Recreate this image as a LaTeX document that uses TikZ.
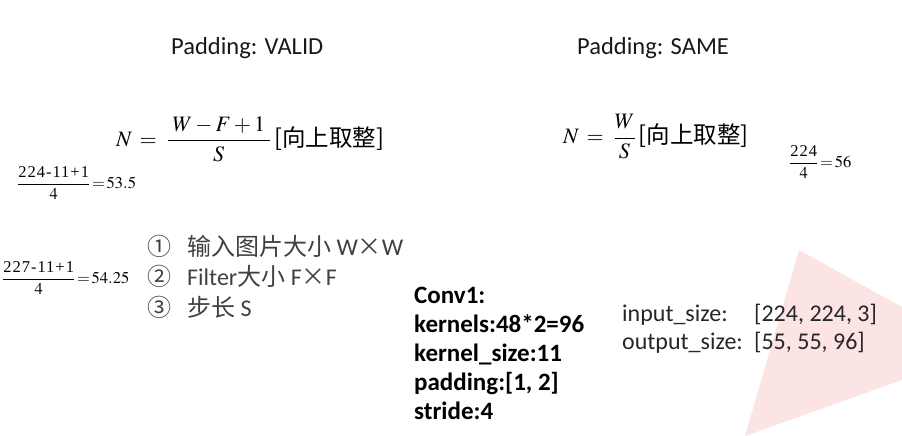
\documentclass[tikz,border=0pt]{standalone}
\usepackage{amsmath}
\usepackage{mathptmx}
\usepackage[no-math]{fontspec}
\setmainfont{Carlito}
\newfontfamily\cjk{Noto Sans CJK SC}
\newfontfamily\tnr{Liberation Serif}
\newfontfamily\tnrwide[LetterSpace=6]{Liberation Serif}
\usepackage{tikz}
\definecolor{pinkbg}{RGB}{252,228,228}
\definecolor{listgray}{RGB}{64,64,64}
\newcommand{\roundup}{\hspace{3pt}{\fontsize{23.5}{27}\selectfont\cjk[向上取整]}}

\begin{document}
\begin{tikzpicture}
  [x=1pt,y=-1pt,
    every node/.style={inner sep=0pt,anchor=base west},
    title/.style={font=\fontsize{24.5}{28}\selectfont,text=black!90},
    formula/.style={font=\fontsize{22}{26}\selectfont,anchor=west},
    calc/.style={font=\fontsize{16.5}{19}\selectfont\tnr,anchor=west},
    item/.style={font=\fontsize{24}{28}\selectfont,text=listgray},
    conv/.style={font=\fontsize{25}{29}\selectfont\bfseries},
    size/.style={font=\fontsize{24}{28}\selectfont,text=black!85},
  ]
  \useasboundingbox (0,0) rectangle (902,436);
  \fill[pinkbg] (799,250) -- (902,307) -- (902,380) -- (745,436) -- cycle;

  \node[title] (pvalid) at (171,55) {Padding: VALID};
  \node[title] (psame) at (577,55) {Padding: SAME};

  \node[formula] (fvalid) at (116,139) {$N\,=\;\dfrac{\;W-F+1\;}{S}$\roundup};
  \node[formula] (fsame) at (563,137) {$N\,=\;\dfrac{W}{S}$\roundup};

  \node[calc] (ex1) at (17,183) {$\dfrac{\mbox{\tnrwide 224-11+1}}{4}\mkern2mu{=}\mkern2mu53.5$};
  \node[calc] (ex2) at (789,162) {$\dfrac{\mbox{\tnrwide 224}}{4}\mkern2mu{=}\mkern2mu56$};
  \node[calc] (ex3) at (2,278) {$\dfrac{\mbox{\tnrwide 227-11+1}}{4}\mkern2mu{=}\mkern2mu54.25$};

  \node[item] (num1) at (147,255) {\cjk ①};
  \node[item] (num2) at (147,285) {\cjk ②};
  \node[item] (num3) at (147,316) {\cjk ③};
  \node[item] (item1) at (187,255) {{\cjk 输入图片大小} W{\cjk ×}W};
  \node[item] (item2) at (187,285) {Filter{\cjk 大小} F{\cjk ×}F};
  \node[item] (item3) at (187,316) {{\cjk 步长} S};

  \foreach \txt [count=\i] in {Conv1:, kernels:48*2=96, kernel\_size:11, {padding:[1, 2]}, stride:4}
    \node[conv] (conv\i) at (414,{303+29*(\i-1)}) {\txt};

  \node[size] (insz) at (622,321) {input\_size:};
  \node[size] (inval) at (754,321) {[224, 224, 3]};
  \node[size] (outsz) at (622,349) {output\_size:};
  \node[size] (outval) at (754,349) {[55, 55, 96]};
\end{tikzpicture}
\end{document}
